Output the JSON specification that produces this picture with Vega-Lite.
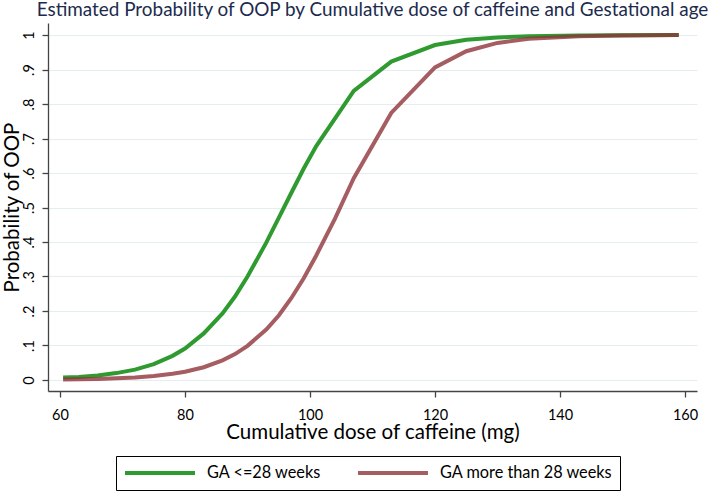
{
  "$schema": "https://vega.github.io/schema/vega-lite/v6.json",
  "width": 649,
  "height": 368,
  "autosize": {"type": "none"},
  "padding": {"left": 48, "top": 23, "right": 15, "bottom": 100},
  "background": "white",
  "config": {"font": "Lato", "view": {"stroke": null}},
  "title": {
    "text": "Estimated Probability of OOP by Cumulative dose of caffeine and Gestational age",
    "fontSize": 18.9,
    "fontWeight": "normal",
    "color": "#1c2b4d",
    "anchor": "middle",
    "frame": "group",
    "offset": 3
  },
  "data": {
    "values": [
      {"dose": 60.5, "prob": 0.007, "group": "GA <=28 weeks"},
      {"dose": 63, "prob": 0.0085, "group": "GA <=28 weeks"},
      {"dose": 66, "prob": 0.013, "group": "GA <=28 weeks"},
      {"dose": 69, "prob": 0.02, "group": "GA <=28 weeks"},
      {"dose": 72, "prob": 0.03, "group": "GA <=28 weeks"},
      {"dose": 75, "prob": 0.046, "group": "GA <=28 weeks"},
      {"dose": 78, "prob": 0.07, "group": "GA <=28 weeks"},
      {"dose": 80, "prob": 0.091, "group": "GA <=28 weeks"},
      {"dose": 83, "prob": 0.135, "group": "GA <=28 weeks"},
      {"dose": 86, "prob": 0.193, "group": "GA <=28 weeks"},
      {"dose": 88, "prob": 0.242, "group": "GA <=28 weeks"},
      {"dose": 90, "prob": 0.3, "group": "GA <=28 weeks"},
      {"dose": 93, "prob": 0.398, "group": "GA <=28 weeks"},
      {"dose": 95, "prob": 0.47, "group": "GA <=28 weeks"},
      {"dose": 97, "prob": 0.542, "group": "GA <=28 weeks"},
      {"dose": 99, "prob": 0.613, "group": "GA <=28 weeks"},
      {"dose": 101, "prob": 0.678, "group": "GA <=28 weeks"},
      {"dose": 107, "prob": 0.838, "group": "GA <=28 weeks"},
      {"dose": 113, "prob": 0.923, "group": "GA <=28 weeks"},
      {"dose": 120, "prob": 0.971, "group": "GA <=28 weeks"},
      {"dose": 125, "prob": 0.986, "group": "GA <=28 weeks"},
      {"dose": 130, "prob": 0.993, "group": "GA <=28 weeks"},
      {"dose": 135, "prob": 0.9966, "group": "GA <=28 weeks"},
      {"dose": 143, "prob": 0.9989, "group": "GA <=28 weeks"},
      {"dose": 150, "prob": 0.9995, "group": "GA <=28 weeks"},
      {"dose": 159, "prob": 0.9999, "group": "GA <=28 weeks"},
      {"dose": 60.5, "prob": 0.0013, "group": "GA more than 28 weeks"},
      {"dose": 63, "prob": 0.002, "group": "GA more than 28 weeks"},
      {"dose": 66, "prob": 0.003, "group": "GA more than 28 weeks"},
      {"dose": 69, "prob": 0.0048, "group": "GA more than 28 weeks"},
      {"dose": 72, "prob": 0.0075, "group": "GA more than 28 weeks"},
      {"dose": 75, "prob": 0.0115, "group": "GA more than 28 weeks"},
      {"dose": 78, "prob": 0.018, "group": "GA more than 28 weeks"},
      {"dose": 80, "prob": 0.024, "group": "GA more than 28 weeks"},
      {"dose": 83, "prob": 0.037, "group": "GA more than 28 weeks"},
      {"dose": 86, "prob": 0.057, "group": "GA more than 28 weeks"},
      {"dose": 88, "prob": 0.075, "group": "GA more than 28 weeks"},
      {"dose": 90, "prob": 0.099, "group": "GA more than 28 weeks"},
      {"dose": 93, "prob": 0.146, "group": "GA more than 28 weeks"},
      {"dose": 95, "prob": 0.187, "group": "GA more than 28 weeks"},
      {"dose": 97, "prob": 0.237, "group": "GA more than 28 weeks"},
      {"dose": 99, "prob": 0.295, "group": "GA more than 28 weeks"},
      {"dose": 101, "prob": 0.361, "group": "GA more than 28 weeks"},
      {"dose": 104, "prob": 0.468, "group": "GA more than 28 weeks"},
      {"dose": 107, "prob": 0.585, "group": "GA more than 28 weeks"},
      {"dose": 113, "prob": 0.774, "group": "GA more than 28 weeks"},
      {"dose": 120, "prob": 0.906, "group": "GA more than 28 weeks"},
      {"dose": 125, "prob": 0.953, "group": "GA more than 28 weeks"},
      {"dose": 130, "prob": 0.977, "group": "GA more than 28 weeks"},
      {"dose": 135, "prob": 0.989, "group": "GA more than 28 weeks"},
      {"dose": 143, "prob": 0.9966, "group": "GA more than 28 weeks"},
      {"dose": 150, "prob": 0.9988, "group": "GA more than 28 weeks"},
      {"dose": 159, "prob": 0.9997, "group": "GA more than 28 weeks"}
    ]
  },
  "mark": {"type": "line", "strokeWidth": 4, "strokeCap": "butt", "interpolate": "linear"},
  "encoding": {
    "x": {
      "field": "dose",
      "type": "quantitative",
      "scale": {"domain": [58.08, 161.92], "nice": false, "zero": false},
      "axis": {
        "title": "Cumulative dose of caffeine (mg)",
        "values": [60, 80, 100, 120, 140, 160],
        "grid": false,
        "domainColor": "#444",
        "domainWidth": 1.3,
        "tickColor": "#444",
        "tickSize": 6,
        "tickWidth": 1.3,
        "labelFontSize": 14.5,
        "labelColor": "#000",
        "labelPadding": 11,
        "labelFlush": false,
        "titleFontSize": 20.5,
        "titleFontWeight": "normal",
        "titleColor": "#000",
        "titlePadding": 1
      }
    },
    "y": {
      "field": "prob",
      "type": "quantitative",
      "scale": {"domain": [-0.0319, 1.0348], "nice": false, "zero": false},
      "axis": {
        "title": "Probability of OOP",
        "values": [0, 0.1, 0.2, 0.3, 0.4, 0.5, 0.6, 0.7, 0.8, 0.9, 1],
        "labelExpr": "datum.value == 0 ? '0' : datum.value == 1 ? '1' : '.' + round(datum.value * 10)",
        "labelAngle": -90,
        "labelAlign": "center",
        "labelBaseline": "bottom",
        "grid": true,
        "gridColor": "#e4edf0",
        "gridWidth": 1.2,
        "domainColor": "#444",
        "domainWidth": 1.3,
        "tickColor": "#444",
        "tickSize": 6,
        "tickWidth": 1.3,
        "labelFontSize": 14.5,
        "labelColor": "#000",
        "labelPadding": 6,
        "labelFlush": false,
        "titleFontSize": 20.5,
        "titleFontWeight": "normal",
        "titleColor": "#000",
        "titlePadding": -1
      }
    },
    "color": {
      "field": "group",
      "type": "nominal",
      "scale": {"domain": ["GA <=28 weeks", "GA more than 28 weeks"], "range": ["#2e9a30", "#90353b"]},
      "legend": {
        "title": null,
        "orient": "none",
        "legendX": 68,
        "legendY": 433,
        "direction": "horizontal",
        "columns": 2,
        "symbolType": "stroke",
        "symbolSize": 4900,
        "symbolStrokeWidth": 4,
        "clipHeight": 20,
        "labelFontSize": 16.3,
        "labelLimit": 400,
        "labelColor": "#000",
        "labelOffset": 10,
        "columnPadding": 34,
        "padding": 7,
        "strokeColor": "#000",
        "fillColor": "white"
      }
    },
    "opacity": {
      "field": "group",
      "type": "nominal",
      "scale": {"domain": ["GA <=28 weeks", "GA more than 28 weeks"], "range": [1, 0.8]},
      "legend": null
    }
  }
}
